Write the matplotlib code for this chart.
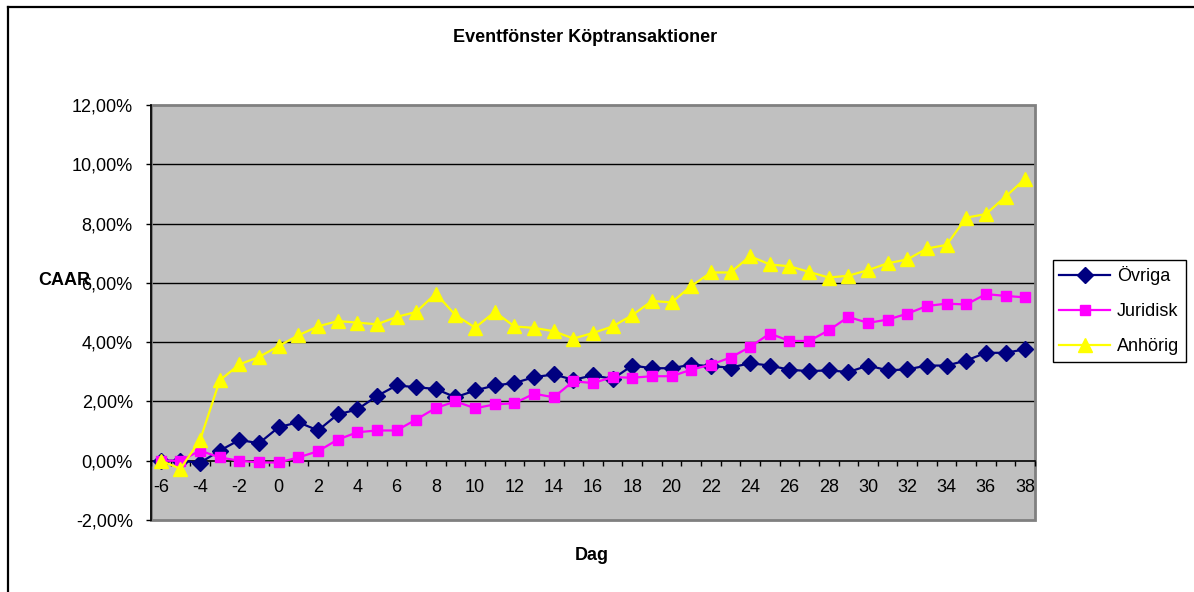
import matplotlib
matplotlib.use("Agg")
import matplotlib.pyplot as plt
from matplotlib.ticker import FixedLocator, FuncFormatter
from matplotlib.patches import Rectangle
from matplotlib.lines import Line2D

plt.rcParams['font.family'] = ['Liberation Sans', 'DejaVu Sans']

# ---- data ----
days = list(range(-6, 39))
ovriga = [0.00, 0.00, -0.07, 0.34, 0.70, 0.59, 1.13, 1.30, 1.02, 1.56, 1.73, 2.18,
          2.54, 2.48, 2.42, 2.14, 2.37, 2.54, 2.62, 2.82, 2.91, 2.73, 2.88, 2.76,
          3.21, 3.12, 3.12, 3.24, 3.19, 3.14, 3.29, 3.21, 3.07, 3.02, 3.05, 2.99,
          3.21, 3.05, 3.08, 3.21, 3.21, 3.38, 3.64, 3.64, 3.76]
juridisk = [0.00, 0.00, 0.34, 0.11, 0.00, -0.06, -0.06, 0.11, 0.32, 0.71, 0.96, 1.02,
            1.02, 1.39, 1.78, 2.00, 1.77, 1.90, 1.94, 2.26, 2.14, 2.68, 2.62, 2.82,
            2.80, 2.85, 2.85, 3.07, 3.24, 3.48, 3.84, 4.29, 4.04, 4.04, 4.40, 4.85,
            4.65, 4.76, 4.96, 5.22, 5.30, 5.27, 5.62, 5.56, 5.51]
anhorig = [0.00, -0.27, 0.70, 2.71, 3.25, 3.50, 3.87, 4.23, 4.53, 4.71, 4.66, 4.60,
           4.85, 5.02, 5.64, 4.91, 4.49, 5.02, 4.53, 4.48, 4.37, 4.12, 4.31, 4.53,
           4.91, 5.39, 5.34, 5.89, 6.35, 6.35, 6.90, 6.62, 6.56, 6.37, 6.18, 6.24,
           6.43, 6.66, 6.79, 7.16, 7.28, 8.20, 8.32, 8.91, 9.51]
series_names = ["Övriga", "Juridisk", "Anhörig"]
y_ticks = [-2, 0, 2, 4, 6, 8, 10, 12]
x_label_days = list(range(-6, 39, 2))

W, H = 1194, 592
fig = plt.figure(figsize=(W / 100, H / 100), dpi=100)
fig.patch.set_facecolor('white')

ax = fig.add_axes([151 / W, 1 - 520 / H, (1035 - 151) / W, (520 - 105) / H])
ax.set_facecolor('#C0C0C0')

ax.plot(days, ovriga, color='#000080', lw=1.6, marker='D', ms=8.5,
        mfc='#000080', mec='#000080', label=series_names[0], zorder=3)
ax.plot(days, juridisk, color='#FF00FF', lw=1.6, marker='s', ms=7.8,
        mfc='#FF00FF', mec='#FF00FF', label=series_names[1], zorder=4)
ax.plot(days, anhorig, color='#FFFF00', lw=1.6, marker='^', ms=9.5,
        mfc='#FFFF00', mec='#FFFF00', label=series_names[2], zorder=5)

ax.set_xlim(days[0] - 0.5, days[-1] + 0.5)
ax.set_ylim(y_ticks[0], y_ticks[-1])

# gridlines
for v in y_ticks[1:-1]:
    if v != 0:
        ax.axhline(v, color='black', lw=1.0, zorder=1)

# spines
for s in ['top', 'right']:
    ax.spines[s].set_visible(False)
ax.spines['left'].set_color('black')
ax.spines['left'].set_linewidth(1.2)
ax.spines['bottom'].set_position(('data', 0))
ax.spines['bottom'].set_color('black')
ax.spines['bottom'].set_linewidth(1.2)
ax.spines['bottom'].set_zorder(2)

ax.add_patch(Rectangle((0, 0), 1, 1, transform=ax.transAxes, fill=False,
                       edgecolor='#808080', lw=2.0, zorder=1.5, clip_on=False))

# y ticks
ax.yaxis.set_major_locator(FixedLocator(y_ticks))
ax.yaxis.set_major_formatter(FuncFormatter(lambda v, p: f"{v:.2f}".replace('.', ',') + "%"))
ax.tick_params(axis='y', which='major', direction='out', length=3.6, width=1,
               pad=9.5, labelsize=13, colors='black')

# x ticks: labels at even days, tick marks at category boundaries
ax.xaxis.set_major_locator(FixedLocator(x_label_days))
ax.xaxis.set_major_formatter(FuncFormatter(lambda v, p: f"{int(round(v))}"))
ax.xaxis.set_minor_locator(FixedLocator([d - 0.5 for d in days] + [days[-1] + 0.5]))
ax.tick_params(axis='x', which='major', length=0, pad=13.5, labelsize=13, colors='black')
ax.tick_params(axis='x', which='minor', direction='out', length=3.6, width=1, color='black')

# titles
fig.text(585 / W, 1 - 37 / H, "Eventfönster Köptransaktioner", ha='center', va='center',
         fontsize=13, fontweight='bold')
fig.text(592 / W, 1 - 555 / H, "Dag", ha='center', va='center', fontsize=13, fontweight='bold')
fig.text(38 / W, 1 - 280 / H, "CAAR", ha='left', va='center', fontsize=13, fontweight='bold')

# legend
leg = fig.legend(loc='upper left', bbox_to_anchor=(1053 / W, 1 - 260 / H),
                 bbox_transform=fig.transFigure, fontsize=13, frameon=True,
                 fancybox=False, edgecolor='black', framealpha=1, borderpad=0.35,
                 labelspacing=1.0, handlelength=2.8, handletextpad=0.4,
                 borderaxespad=0)
leg.get_frame().set_linewidth(1.0)

# outer chart border (top and left visible)
fig.add_artist(Line2D([8 / W, 1.0], [1 - 7 / H, 1 - 7 / H], transform=fig.transFigure,
                      color='black', lw=1.6))
fig.add_artist(Line2D([8 / W, 8 / W], [0.0, 1 - 7 / H], transform=fig.transFigure,
                      color='black', lw=1.6))

fig.savefig('out.png', dpi=100, facecolor='white')
